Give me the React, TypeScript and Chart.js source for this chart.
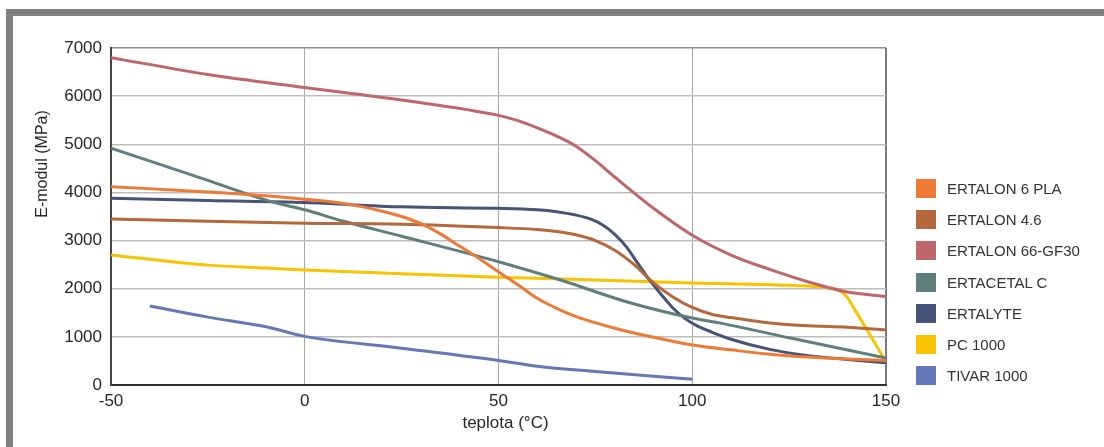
import React, { useEffect, useRef } from "react";
import { Chart, registerables } from "chart.js";

Chart.register(...registerables);

// ---- data ----
const SERIES_NAMES = [
  "ERTALON 6 PLA",
  "ERTALON 4.6",
  "ERTALON 66-GF30",
  "ERTACETAL C",
  "ERTALYTE",
  "PC 1000",
  "TIVAR 1000",
];
const SERIES_COLORS = ["#EE7A35", "#B5683B", "#BE6669", "#5E7F7B", "#465479", "#F8C300", "#6478B8"];

const tPla = [-50, -25, -10, 0, 10, 15, 20, 25, 30, 35, 40, 45, 50, 55, 60, 65, 70, 80, 90, 100, 110, 120, 130, 140, 150];
const ePla = [4120, 4010, 3930, 3860, 3770, 3700, 3610, 3500, 3350, 3140, 2880, 2630, 2350, 2080, 1800, 1590, 1420, 1180, 990, 830, 730, 640, 580, 540, 510];

const t46 = [-50, -25, 0, 25, 50, 60, 65, 70, 75, 80, 85, 90, 95, 100, 105, 110, 120, 130, 140, 150];
const e46 = [3450, 3400, 3360, 3340, 3270, 3230, 3190, 3120, 3000, 2800, 2500, 2120, 1830, 1610, 1470, 1400, 1290, 1230, 1200, 1140];

const tGf = [-50, -25, 0, 25, 50, 55, 60, 65, 70, 75, 80, 90, 100, 110, 120, 130, 140, 150];
const eGf = [6800, 6450, 6180, 5920, 5600, 5490, 5340, 5170, 4960, 4660, 4320, 3670, 3110, 2700, 2400, 2140, 1930, 1840];

const tAc = [-50, -25, -15, -8, 0, 10, 25, 50, 66, 83, 100, 107, 125, 150];
const eAc = [4920, 4250, 3970, 3795, 3640, 3400, 3090, 2560, 2180, 1730, 1390, 1290, 980, 560];

const tLy = [-50, -25, 0, 25, 50, 60, 65, 70, 74, 77, 80, 83, 86, 89, 92, 95, 98, 101, 105, 110, 120, 130, 140, 150];
const eLy = [3880, 3830, 3790, 3700, 3670, 3640, 3600, 3530, 3440, 3320, 3130, 2870, 2520, 2180, 1880, 1600, 1390, 1240, 1100, 950, 740, 610, 530, 460];

const tPc = [-50, -40, -25, -10, 0, 25, 50, 75, 100, 125, 135, 138, 140, 142, 150];
const ePc = [2700, 2610, 2490, 2430, 2390, 2310, 2240, 2180, 2120, 2070, 2020, 1960, 1820, 1560, 480];

const tTi = [-40, -25, -10, 0, 25, 50, 60, 75, 100];
const eTi = [1640, 1410, 1210, 1010, 765, 510, 390, 280, 120];

const SERIES_T = [tPla, t46, tGf, tAc, tLy, tPc, tTi];
const SERIES_E = [ePla, e46, eGf, eAc, eLy, ePc, eTi];

const X_TICKS = [-50, 0, 50, 100, 150];
const Y_TICKS = [0, 1000, 2000, 3000, 4000, 5000, 6000, 7000];
const X_TITLE = "teplota (°C)";
const Y_TITLE = "E-modul (MPa)";

const FONT = '"Liberation Sans", Arial, Helvetica, sans-serif';

const axisTitles = {
  id: "axisTitles",
  afterDraw(chart: any) {
    const { ctx, chartArea } = chart;
    ctx.save();
    ctx.fillStyle = "#262626";
    ctx.textAlign = "center";
    ctx.textBaseline = "middle";
    ctx.font = `17px ${FONT}`;
    ctx.fillText(X_TITLE, (chartArea.left + chartArea.right) / 2 + 7, chartArea.bottom + 38);
    ctx.font = `16px ${FONT}`;
    ctx.translate(chartArea.left - 68, chartArea.top + 116);
    ctx.rotate(-Math.PI / 2);
    ctx.fillText(Y_TITLE, 0, 0);
    ctx.restore();
  },
};

export default function App() {
  const canvasRef = useRef<HTMLCanvasElement | null>(null);

  useEffect(() => {
    const canvas = canvasRef.current;
    if (!canvas) return;
    const datasets = SERIES_NAMES.map((name, i) => ({
      label: name,
      data: SERIES_T[i].map((t, j) => ({ x: t, y: SERIES_E[i][j] })),
      borderColor: SERIES_COLORS[i],
      backgroundColor: SERIES_COLORS[i],
      borderWidth: 3,
      pointRadius: 0,
      cubicInterpolationMode: "monotone" as const,
      fill: false,
    }));
    const chart = new Chart(canvas, {
      type: "line",
      data: { datasets },
      plugins: [axisTitles],
      options: {
        animation: false,
        responsive: false,
        devicePixelRatio: 1,
        layout: { padding: { left: 0, top: 48, right: 218, bottom: 0 } },
        plugins: { legend: { display: false }, tooltip: { enabled: false } },
        scales: {
          x: {
            type: "linear",
            min: -50,
            max: 150,
            afterBuildTicks: (scale: any) => {
              scale.ticks = X_TICKS.map((v) => ({ value: v }));
            },
            afterFit: (scale: any) => {
              scale.height = 62;
            },
            ticks: {
              font: { size: 17, family: FONT },
              color: "#262626",
              padding: 6,
              maxRotation: 0,
            },
            grid: {
              drawTicks: false,
              color: (ctx: any) => (ctx.tick && ctx.tick.value === 150 ? "#7a7a7a" : "#a8a8a8"),
              lineWidth: (ctx: any) => (ctx.tick && ctx.tick.value === 150 ? 2 : 1),
            },
            border: { color: "#333333", width: 2 },
          },
          y: {
            type: "linear",
            min: 0,
            max: 7000,
            afterBuildTicks: (scale: any) => {
              scale.ticks = Y_TICKS.map((v) => ({ value: v }));
            },
            afterFit: (scale: any) => {
              scale.width = 111;
            },
            ticks: {
              font: { size: 17, family: FONT },
              color: "#262626",
              padding: 9,
              callback: (v: any) => String(v),
            },
            grid: {
              drawTicks: false,
              color: (ctx: any) => (ctx.tick && ctx.tick.value === 7000 ? "#909090" : "#bdbdbd"),
              lineWidth: 1.5,
            },
            border: { color: "#444444", width: 2 },
          },
        },
      },
    });
    return () => chart.destroy();
  }, []);

  return (
    <div style={{ position: "fixed", left: 0, top: 0, width: 1104, height: 447, background: "#ffffff", overflow: "hidden" }}>
      <div
        style={{
          position: "absolute",
          left: 6,
          top: 9,
          width: 1098,
          height: 438,
          borderTop: "7px solid #808080",
          borderLeft: "7px solid #808080",
          boxSizing: "border-box",
        }}
      />
      <canvas ref={canvasRef} width={1104} height={447} style={{ position: "absolute", left: 0, top: 0, width: 1104, height: 447 }} />
      <div style={{ position: "absolute", left: 916, top: 179, fontFamily: FONT, fontSize: 15, color: "#333333" }}>
        {SERIES_NAMES.map((name, i) => (
          <div key={name} style={{ display: "flex", alignItems: "center", height: 31.2 }}>
            <div style={{ width: 20, height: 19, background: SERIES_COLORS[i], flex: "none", alignSelf: "flex-start" }} />
            <span style={{ marginLeft: 11, whiteSpace: "nowrap", lineHeight: "19px", alignSelf: "flex-start" }}>{name}</span>
          </div>
        ))}
      </div>
    </div>
  );
}
